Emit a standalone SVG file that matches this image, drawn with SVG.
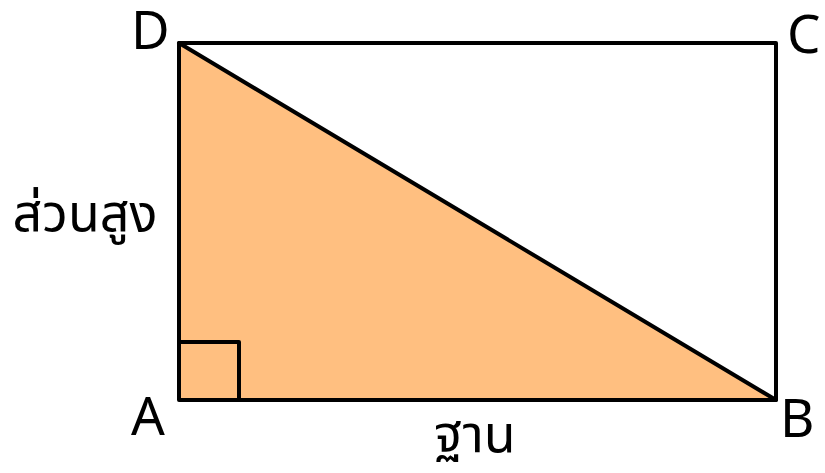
<svg xmlns="http://www.w3.org/2000/svg" width="825" height="473" viewBox="0 0 825 473">
<style>
.ln{fill:none;stroke:#000;stroke-width:4;stroke-linejoin:round;stroke-linecap:round}
.lbl{font-family:"Noto Sans","Noto Sans Thai","DejaVu Sans",sans-serif;font-size:53px;fill:#000}
.th{font-family:"Noto Sans","Noto Sans Thai","DejaVu Sans",sans-serif;font-size:52px;fill:#000}
</style>
<rect width="825" height="473" fill="#fff"/>
<g id="triangle">
<polygon points="179,43 776,400 179,400" fill="#FFBF80"/>
</g>
<g id="connectors">
<rect class="ln" x="179" y="43" width="597" height="357"/>
<line class="ln" x1="179" y1="43" x2="776" y2="400"/>
<polyline class="ln" points="179,342 239,342 239,400"/>
</g>
<g id="labels">
<text class="lbl" x="131" y="49">D</text>
<text class="lbl" x="787" y="53">C</text>
<text class="lbl" x="131" y="435">A</text>
<text class="lbl" x="780" y="437">B</text>
<text class="th" x="85" y="231" text-anchor="middle">ส่วนสูง</text>
<text class="th" x="475" y="452" text-anchor="middle">ฐาน</text>
</g>
</svg>
